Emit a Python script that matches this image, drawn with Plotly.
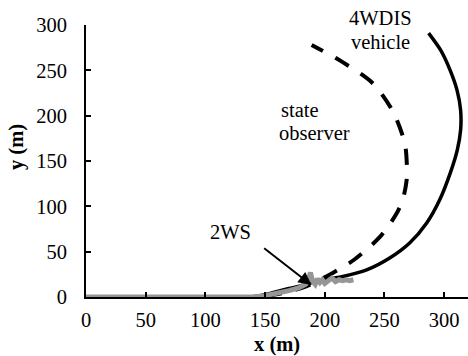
import plotly.graph_objects as go

# 4WDIS vehicle trajectory (solid black)
veh_x = [0, 60, 120, 137.2, 150, 164.9, 180, 193.3, 215.1, 235.1, 254.4, 271.1, 285.4, 296.2, 305.4, 311.0, 313.8, 313.8, 310.8, 305.0, 297.1, 287.0]
veh_y = [0, 0, 0, 0, 2.5, 7.7, 12.5, 17.6, 22.6, 29.8, 42.9, 59.5, 81.6, 106.9, 137.8, 162.1, 184.1, 206.2, 228.2, 250.3, 272.3, 291.1]

# state observer trajectory (dashed black)
obs_x = [0, 60, 120, 140, 155, 170, 185, 196, 206.7, 224.3, 246, 259.4, 265.3, 268.6, 268.8, 267, 257, 240, 215, 189]
obs_y = [0, 0, 0, 0, 2, 6, 12, 19, 26.5, 40.8, 66, 90.4, 107, 129, 145, 170, 205, 236, 259, 278]

# 2WS trajectory (gray)
ws_x = [0, 60, 120, 140, 150, 160, 170, 178, 184, 186, 188, 190, 192, 194, 196, 198, 200, 203, 206, 209, 212, 215, 218, 221, 224]
ws_y = [0, 0, 0, 0, 1.5, 4, 7, 10, 14, 18, 27, 17, 14, 20, 16, 19, 15, 18, 21, 17, 19, 18, 19, 18, 19]

x_ticks = [0, 50, 100, 150, 200, 250, 300]
y_ticks = [0, 50, 100, 150, 200, 250, 300]

FONT = "Liberation Serif, Times New Roman, serif"
FS = 20.5

fig = go.Figure()
fig.add_trace(go.Scatter(x=veh_x, y=veh_y, mode="lines", line=dict(color="black", width=3.5, shape="spline", smoothing=0.8), cliponaxis=False))
fig.add_trace(go.Scatter(x=obs_x, y=obs_y, mode="lines", line=dict(color="black", width=4, dash="16px,14px", shape="spline", smoothing=0.8), cliponaxis=False))
fig.add_trace(go.Scatter(x=ws_x, y=ws_y, mode="lines", line=dict(color="#969696", width=5), cliponaxis=False))

PW, PH = 382, 272  # plot area size in px

anns = [
    dict(x=188.9, y=13.2, ax=148, ay=55, xref="x", yref="y", axref="x", ayref="y", text="", showarrow=True,
         arrowhead=2, arrowsize=1.3, arrowwidth=2, arrowcolor="black"),
    dict(x=121.3, y=72.2, xref="x", yref="y", text="2WS", showarrow=False, xanchor="center", yanchor="middle"),
    dict(x=161.5, y=206, xref="x", yref="y", text="state", showarrow=False, xanchor="left", yanchor="middle"),
    dict(x=160, y=181, xref="x", yref="y", text="observer", showarrow=False, xanchor="left", yanchor="middle"),
    dict(x=247, y=(297 - 18) / PH, xref="x", yref="paper", text="4WDIS", showarrow=False, xanchor="center", yanchor="middle"),
    dict(x=247, y=(297 - 42) / PH, xref="x", yref="paper", text="vehicle", showarrow=False, xanchor="center", yanchor="middle"),
    dict(x=(277 - 86) / PW, y=(297 - 344) / PH, xref="paper", yref="paper", text="<b>x (m)</b>", showarrow=False,
         xanchor="center", yanchor="middle"),
    dict(x=(16 - 86) / PW, y=(297 - 147) / PH, xref="paper", yref="paper", text="<b>y (m)</b>", showarrow=False,
         xanchor="center", yanchor="middle", textangle=-90, borderpad=0),
]
for a in anns:
    a["font"] = dict(family=FONT, size=FS, color="black")

fig.update_layout(
    width=468, height=356,
    margin=dict(l=86, r=0, t=25, b=59, autoexpand=False),
    paper_bgcolor="white", plot_bgcolor="white",
    showlegend=False,
    font=dict(family=FONT, size=FS, color="black"),
    annotations=anns,
    xaxis=dict(range=[0, 320], tickvals=x_ticks, ticktext=[str(v) for v in x_ticks], showline=True, linecolor="black",
               linewidth=2, ticks="inside", ticklen=5, tickwidth=2, tickcolor="black", showgrid=False, zeroline=False,
               ticklabelstandoff=3),
    yaxis=dict(range=[0, 300], tickvals=y_ticks, ticktext=[str(v) for v in y_ticks], showline=True, linecolor="black",
               linewidth=2, ticks="inside", ticklen=5, tickwidth=2, tickcolor="black", showgrid=False, zeroline=False,
               ticklabelstandoff=13),
)

# remove the page's default body margin so the figure fills the window exactly
fig.write_html("out.html", config={"displayModeBar": False},
               post_script="document.body.style.margin='0';")
